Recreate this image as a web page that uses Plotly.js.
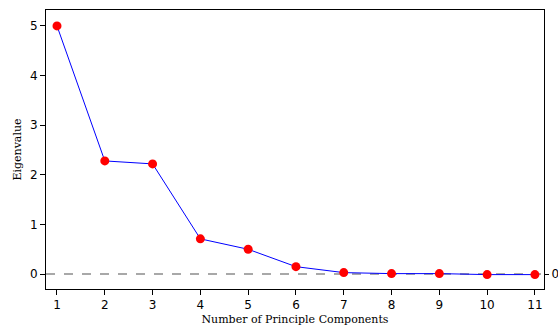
<!DOCTYPE html>
<html>
<head>
<meta charset="utf-8">
<script src="https://cdn.plot.ly/plotly-3.0.1.min.js"></script>
<style>html,body{margin:0;padding:0;background:#fff;}#chart{width:558px;height:327px;}</style>
</head>
<body>
<div id="chart"></div>
<script>
const components = [1, 2, 3, 4, 5, 6, 7, 8, 9, 10, 11];
const eigenvalues = [5.0, 2.28, 2.22, 0.71, 0.50, 0.15, 0.03, 0.01, 0.01, -0.01, -0.01];
const xTicks = [1, 2, 3, 4, 5, 6, 7, 8, 9, 10, 11];
const yTicks = [0, 1, 2, 3, 4, 5];
const refValue = 0;

const traces = [
  {
    x: components, y: eigenvalues, type: 'scatter', mode: 'lines+markers',
    line: {color: '#0000ff', width: 1},
    marker: {color: '#ff0000', size: 9},
    showlegend: false, hoverinfo: 'skip'
  },
  {
    x: [components[0]], y: [refValue], yaxis: 'y2', type: 'scatter', mode: 'markers',
    marker: {opacity: 0}, showlegend: false, hoverinfo: 'skip'
  }
];

const tickFont = {family: 'DejaVu Sans, Verdana, sans-serif', size: 12, color: '#000'};
const layout = {
  width: 558, height: 327,
  margin: {l: 46, r: 14, t: 10, b: 38},
  paper_bgcolor: '#fff', plot_bgcolor: '#fff',
  xaxis: {
    range: [0.77, 11.19], tickvals: xTicks, ticktext: xTicks.map(String),
    showgrid: false, zeroline: false, showline: true, linecolor: '#000', linewidth: 1,
    mirror: true, ticks: 'outside', ticklen: 5, tickcolor: '#000', tickfont: tickFont,
    title: {text: 'Number of Principle Components', font: {family: 'DejaVu Serif, Liberation Serif, serif', size: 11, color: '#000'}, standoff: 3}
  },
  yaxis: {
    range: [-0.30, 5.32], tickvals: yTicks, ticktext: yTicks.map(String),
    showgrid: false, zeroline: false, showline: true, linecolor: '#000', linewidth: 1,
    ticks: 'outside', ticklen: 5, tickcolor: '#000', tickfont: tickFont,
    title: {text: 'Eigenvalue', font: {family: 'DejaVu Serif, Liberation Serif, serif', size: 11, color: '#000'}, standoff: 6}
  },
  yaxis2: {
    overlaying: 'y', side: 'right', range: [-0.30, 5.32], tickvals: [refValue], ticktext: [String(refValue)],
    showgrid: false, zeroline: false, showline: true, linecolor: '#000', linewidth: 1,
    ticks: 'outside', ticklen: 4, tickcolor: '#000', tickfont: tickFont
  },
  shapes: [{
    type: 'line', xref: 'paper', x0: 0, x1: 1, yref: 'y', y0: refValue, y1: refValue,
    line: {color: '#8c8c8c', width: 1.5, dash: 'dash'}, layer: 'below'
  }]
};
Plotly.newPlot('chart', traces, layout, {displayModeBar: false, staticPlot: true});
</script>
</body>
</html>
